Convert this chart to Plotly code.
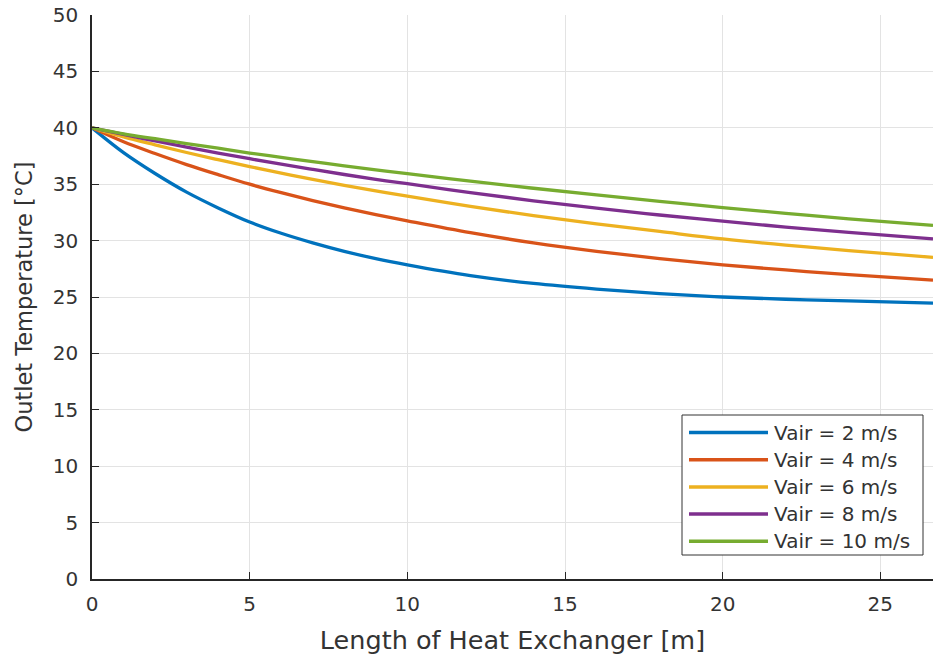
import plotly.graph_objects as go

# Heat-exchanger length [m] at which outlet temperatures were sampled
length_m = [0, 1, 2, 3, 4, 5, 6, 7, 8, 9, 10, 12, 14, 16, 18, 20, 22, 24, 26.67]

# Outlet temperature [°C] for each air velocity
t_vair_2 = [40.0, 37.8, 35.95, 34.3, 32.9, 31.65, 30.65, 29.8, 29.05, 28.4, 27.85,
            26.9, 26.2, 25.7, 25.3, 25.0, 24.8, 24.65, 24.45]
t_vair_4 = [40.0, 38.76, 37.72, 36.74, 35.85, 35.0, 34.25, 33.55, 32.9, 32.3, 31.75,
            30.7, 29.8, 29.05, 28.4, 27.85, 27.4, 26.98, 26.5]
t_vair_6 = [40.0, 39.19, 38.49, 37.81, 37.17, 36.56, 35.98, 35.43, 34.9, 34.4, 33.95,
            33.03, 32.21, 31.48, 30.81, 30.15, 29.6, 29.12, 28.52]
t_vair_8 = [40.0, 39.41, 38.84, 38.29, 37.76, 37.26, 36.77, 36.31, 35.86, 35.43, 35.05,
            34.25, 33.53, 32.88, 32.27, 31.72, 31.2, 30.72, 30.15]
t_vair_10 = [40.0, 39.47, 39.03, 38.6, 38.19, 37.76, 37.38, 37.0, 36.63, 36.27, 35.93,
             35.27, 34.64, 34.05, 33.48, 32.93, 32.42, 31.93, 31.35]

series = [t_vair_2, t_vair_4, t_vair_6, t_vair_8, t_vair_10]
labels = ["Vair = 2 m/s", "Vair = 4 m/s", "Vair = 6 m/s", "Vair = 8 m/s", "Vair = 10 m/s"]
colors = ["#0072BD", "#D95319", "#EDB120", "#7E2F8E", "#77AC30"]

x_ticks = [0, 5, 10, 15, 20, 25]
y_ticks = [0, 5, 10, 15, 20, 25, 30, 35, 40, 45, 50]

FONT = "DejaVu Sans"
TEXT = "#333333"
AXIS = "#262626"

fig = go.Figure()
for name, temps, col in zip(labels, series, colors):
    fig.add_trace(go.Scatter(
        x=length_m, y=temps, name=name, mode="lines",
        line=dict(color=col, width=3.3, shape="spline", smoothing=1.0),
        showlegend=False,
    ))

# Boxed legend with long line samples, placed in the lower-right of the axes
W, H = 933, 655
ml, mr, mt, mb = 92, 0, 15, 76
pw, ph = W - ml - mr, H - mt - mb


def px_x(p):
    return (p - ml) / pw


def px_y(p):
    return (H - mb - p) / ph


box_l, box_r, box_t, box_b = 682, 923, 415, 555
fig.add_shape(type="rect", xref="paper", yref="paper",
              x0=px_x(box_l), x1=px_x(box_r), y0=px_y(box_b), y1=px_y(box_t),
              line=dict(color="#333333", width=1), fillcolor="white", layer="above")
row0, row_step = 432.5, 27.2
for i, (name, col) in enumerate(zip(labels, colors)):
    yy = px_y(row0 + i * row_step)
    fig.add_shape(type="line", xref="paper", yref="paper",
                  x0=px_x(689), x1=px_x(768), y0=yy, y1=yy,
                  line=dict(color=col, width=3.5), layer="above")
    fig.add_annotation(xref="paper", yref="paper", x=px_x(772), y=yy,
                       text=name, showarrow=False, xanchor="left", yanchor="middle",
                       font=dict(family=FONT, size=20, color=TEXT))

axis_common = dict(
    showgrid=True, gridcolor="#e3e3e3", gridwidth=1.2,
    showline=True, linecolor=AXIS, linewidth=1.5, mirror=False,
    ticks="inside", ticklen=7, tickcolor=AXIS, tickwidth=1.2,
    zeroline=False,
    tickfont=dict(family=FONT, size=20, color=TEXT),
)

fig.update_layout(
    width=W, height=H,
    margin=dict(l=ml, r=mr, t=mt, b=mb),
    paper_bgcolor="white", plot_bgcolor="white",
    xaxis=dict(range=[0, 26.67], tickvals=x_ticks, ticklabelstandoff=6,
               title=dict(text="Length of Heat Exchanger [m]", standoff=20,
                          font=dict(family=FONT, size=25.5, color=TEXT)),
               **axis_common),
    yaxis=dict(range=[0, 50], tickvals=y_ticks, ticklabelstandoff=8,
               title=dict(text="Outlet Temperature [°C]", standoff=14,
                          font=dict(family=FONT, size=22.5, color=TEXT)),
               **axis_common),
)

fig.write_html("out.html")
